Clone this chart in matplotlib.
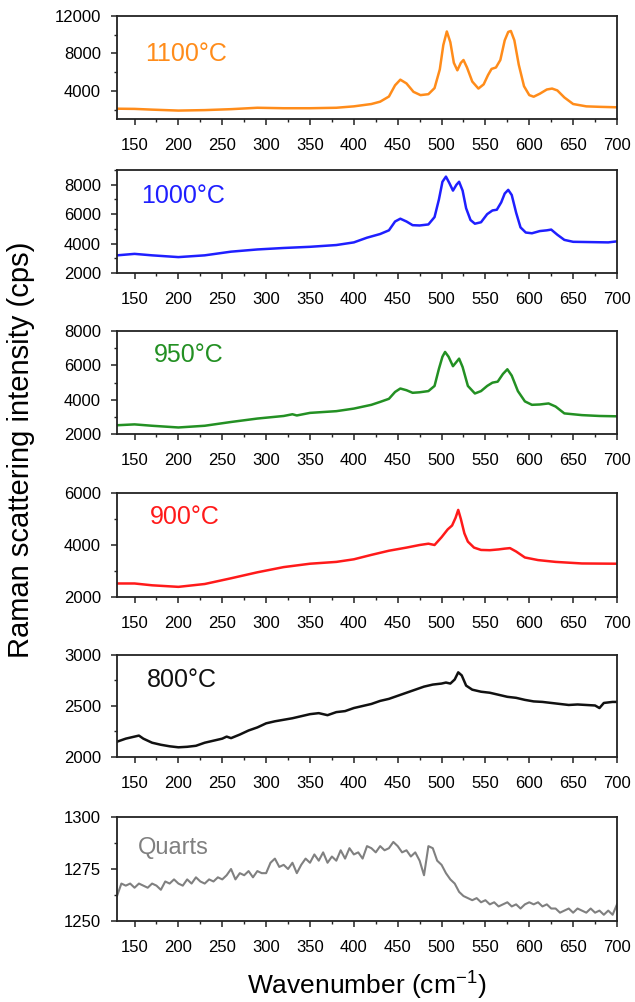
import numpy as np
import matplotlib
matplotlib.use('Agg')
import matplotlib.pyplot as plt
from matplotlib.ticker import AutoMinorLocator

plt.rcParams['font.family'] = ['Liberation Sans', 'DejaVu Sans']

# ---- data (wavenumber in cm-1, intensity in cps) ----
wn_1100 = [130, 150, 170, 200, 230, 260, 290, 320, 350, 380, 400, 420, 430, 440, 447, 453, 460, 468, 476,
           485, 492, 498, 502, 506, 510, 514, 518, 522, 525, 529, 535, 542, 548, 553, 557, 562, 567, 572,
           576, 579, 583, 588, 594, 600, 605, 612, 620, 626, 632, 640, 650, 665, 680, 700]
int_1100 = [2100, 2080, 2000, 1900, 1950, 2050, 2200, 2150, 2150, 2200, 2350, 2600, 2850, 3400, 4600, 5200,
            4800, 3900, 3550, 3650, 4300, 6300, 8900, 10350, 9200, 7000, 6200, 7000, 7300, 6500, 5000, 4250,
            4700, 5700, 6350, 6500, 7300, 9400, 10300, 10400, 9400, 6800, 4500, 3550, 3380, 3700, 4150, 4250,
            4050, 3300, 2600, 2350, 2300, 2250]

wn_1000 = [130, 150, 170, 200, 230, 260, 290, 320, 350, 380, 400, 415, 430, 440, 447, 453, 460, 467, 475,
           485, 492, 497, 501, 505, 509, 513, 517, 520, 524, 528, 533, 538, 545, 552, 558, 563, 568, 572,
           576, 580, 585, 590, 596, 603, 612, 620, 625, 632, 640, 650, 670, 690, 700]
int_1000 = [3200, 3300, 3200, 3080, 3200, 3450, 3600, 3700, 3780, 3900, 4080, 4400, 4650, 4900, 5500, 5690,
            5500, 5250, 5230, 5300, 5800, 7000, 8200, 8550, 8100, 7600, 8000, 8200, 7600, 6400, 5600, 5350,
            5450, 6000, 6250, 6300, 6800, 7400, 7650, 7300, 6100, 5100, 4750, 4700, 4850, 4900, 4950, 4600,
            4250, 4120, 4100, 4080, 4150]

wn_950 = [130, 150, 170, 200, 230, 260, 290, 320, 330, 335, 350, 380, 400, 420, 430, 440, 447, 453, 460,
          467, 475, 485, 492, 497, 501, 504, 508, 513, 517, 520, 524, 530, 538, 545, 552, 558, 564, 570,
          575, 580, 587, 595, 603, 612, 622, 630, 640, 660, 680, 700]
int_950 = [2510, 2560, 2480, 2380, 2480, 2700, 2900, 3050, 3150, 3080, 3230, 3330, 3480, 3700, 3870, 4050,
           4450, 4650, 4550, 4400, 4430, 4500, 4800, 5800, 6500, 6780, 6500, 5950, 6200, 6390, 5900, 4800,
           4360, 4500, 4800, 4990, 5050, 5500, 5770, 5400, 4500, 3900, 3700, 3720, 3780, 3600, 3200, 3100,
           3050, 3030]

wn_900 = [130, 150, 170, 200, 230, 260, 290, 320, 350, 380, 400, 420, 440, 460, 475, 485, 492, 500, 507,
          512, 516, 519, 522, 526, 530, 537, 545, 555, 565, 572, 578, 585, 595, 610, 630, 660, 700]
int_900 = [2520, 2520, 2450, 2390, 2500, 2720, 2950, 3150, 3280, 3350, 3450, 3620, 3780, 3900, 4000, 4050,
           4000, 4300, 4600, 4750, 5050, 5350, 5000, 4450, 4130, 3900, 3810, 3800, 3830, 3860, 3880, 3750,
           3520, 3420, 3350, 3290, 3280]

wn_800 = [130, 140, 150, 155, 160, 170, 180, 190, 200, 210, 220, 230, 240, 250, 255, 260, 270, 280, 290,
          300, 310, 320, 330, 340, 350, 360, 370, 380, 390, 400, 410, 420, 430, 440, 450, 460, 470, 480,
          490, 500, 505, 510, 515, 519, 523, 528, 535, 545, 555, 565, 575, 585, 595, 605, 615, 625, 635,
          645, 655, 665, 675, 680, 685, 695, 700]
int_800 = [2150, 2180, 2200, 2210, 2180, 2140, 2120, 2105, 2095, 2100, 2110, 2140, 2160, 2180, 2200, 2185,
           2220, 2260, 2290, 2330, 2350, 2365, 2380, 2400, 2420, 2430, 2410, 2440, 2450, 2480, 2500, 2520,
           2550, 2570, 2600, 2630, 2660, 2690, 2710, 2720, 2730, 2720, 2760, 2830, 2800, 2700, 2660, 2640,
           2630, 2610, 2590, 2580, 2560, 2545, 2540, 2530, 2520, 2510, 2515, 2510, 2505, 2480, 2530, 2540,
           2540]

wn_quartz = list(range(130, 705, 5))
int_quartz = [1262, 1268, 1267, 1268, 1266, 1268, 1267, 1266, 1268, 1267,
              1265, 1269, 1268, 1270, 1268, 1267, 1270, 1268, 1271, 1269,
              1268, 1270, 1269, 1271, 1270, 1272, 1275, 1270, 1273, 1272,
              1274, 1271, 1274, 1273, 1273, 1278, 1280, 1276, 1277, 1275,
              1278, 1273, 1277, 1280, 1278, 1282, 1279, 1283, 1278, 1281,
              1279, 1284, 1280, 1285, 1282, 1283, 1280, 1286, 1285, 1283,
              1286, 1284, 1285, 1288, 1286, 1283, 1284, 1281, 1283, 1279,
              1272, 1286, 1285, 1279, 1277, 1273, 1270, 1268, 1264, 1262,
              1261, 1260, 1261, 1259, 1260, 1258, 1259, 1257, 1258, 1259,
              1257, 1258, 1256, 1258, 1259, 1258, 1259, 1257, 1258, 1256,
              1256, 1254, 1255, 1256, 1254, 1256, 1255, 1254, 1256, 1254,
              1255, 1253, 1255, 1253, 1258]

labels = ['1100°C', '1000°C', '950°C', '900°C', '800°C', 'Quarts']
x_data = [wn_1100, wn_1000, wn_950, wn_900, wn_800, wn_quartz]
y_data = [int_1100, int_1000, int_950, int_900, int_800, int_quartz]
y_limits = [(1000, 12000), (2000, 9000), (2000, 8000), (2000, 6000), (2000, 3000), (1250, 1300)]
y_ticks = [[4000, 8000, 12000], [2000, 4000, 6000, 8000], [2000, 4000, 6000, 8000],
           [2000, 4000, 6000], [2000, 2500, 3000], [1250, 1275, 1300]]
x_ticks = [150, 200, 250, 300, 350, 400, 450, 500, 550, 600, 650, 700]

colors = ['#ff8c1a', '#1f1fff', '#239023', '#ff1a1a', '#111111', '#808080']
# panel frames in pixels (top, bottom) and label anchors in axes fraction
W, H = 635, 1002
frames = [(16, 119), (170, 273), (331, 434), (493, 597), (655, 757), (817, 921)]
label_pos = [(0.056, 0.634), (0.049, 0.748), (0.074, 0.767), (0.066, 0.77), (0.06, 0.755), (0.042, 0.70)]
label_size = [18, 18, 18, 18, 18, 17]
left_px, right_px = 117, 617

fig = plt.figure(figsize=(W / 100, H / 100), dpi=100)

for i in range(6):
    top, bot = frames[i]
    ax = fig.add_axes([left_px / W, 1 - bot / H, (right_px - left_px) / W, (bot - top) / H])
    lw = 1.5 if i == 5 else 1.8
    ax.plot(x_data[i], y_data[i], color=colors[i], linewidth=lw)
    ax.set_xlim(130, 700)
    ax.set_ylim(*y_limits[i])
    ax.set_xticks(x_ticks)
    ax.set_yticks(y_ticks[i])
    ax.xaxis.set_minor_locator(AutoMinorLocator(2))
    ax.yaxis.set_minor_locator(AutoMinorLocator(2))
    ax.tick_params(axis='both', which='major', direction='out', length=4.5, width=1.1,
                   labelsize=12, color='#222222')
    ax.tick_params(axis='both', which='minor', direction='out', length=2.2, width=1.0, color='#222222')
    ax.tick_params(axis='x', which='major', pad=9.5)
    ax.tick_params(axis='y', which='major', pad=7)
    for sp in ax.spines.values():
        sp.set_linewidth(1.3)
        sp.set_color('#222222')
    ax.text(label_pos[i][0], label_pos[i][1], labels[i], transform=ax.transAxes,
            ha='left', va='center', fontsize=label_size[i], color=colors[i])

fig.text(21 / W, 1 - 450 / H, 'Raman scattering intensity (cps)', rotation=90,
         ha='center', va='center', fontsize=21)
fig.text((left_px + right_px) / 2 / W, 1 - 985 / H, r'Wavenumber (cm$^{\mathregular{-1}}$)',
         ha='center', va='center', fontsize=19)

plt.savefig('out.png', dpi=100)
plt.close()
